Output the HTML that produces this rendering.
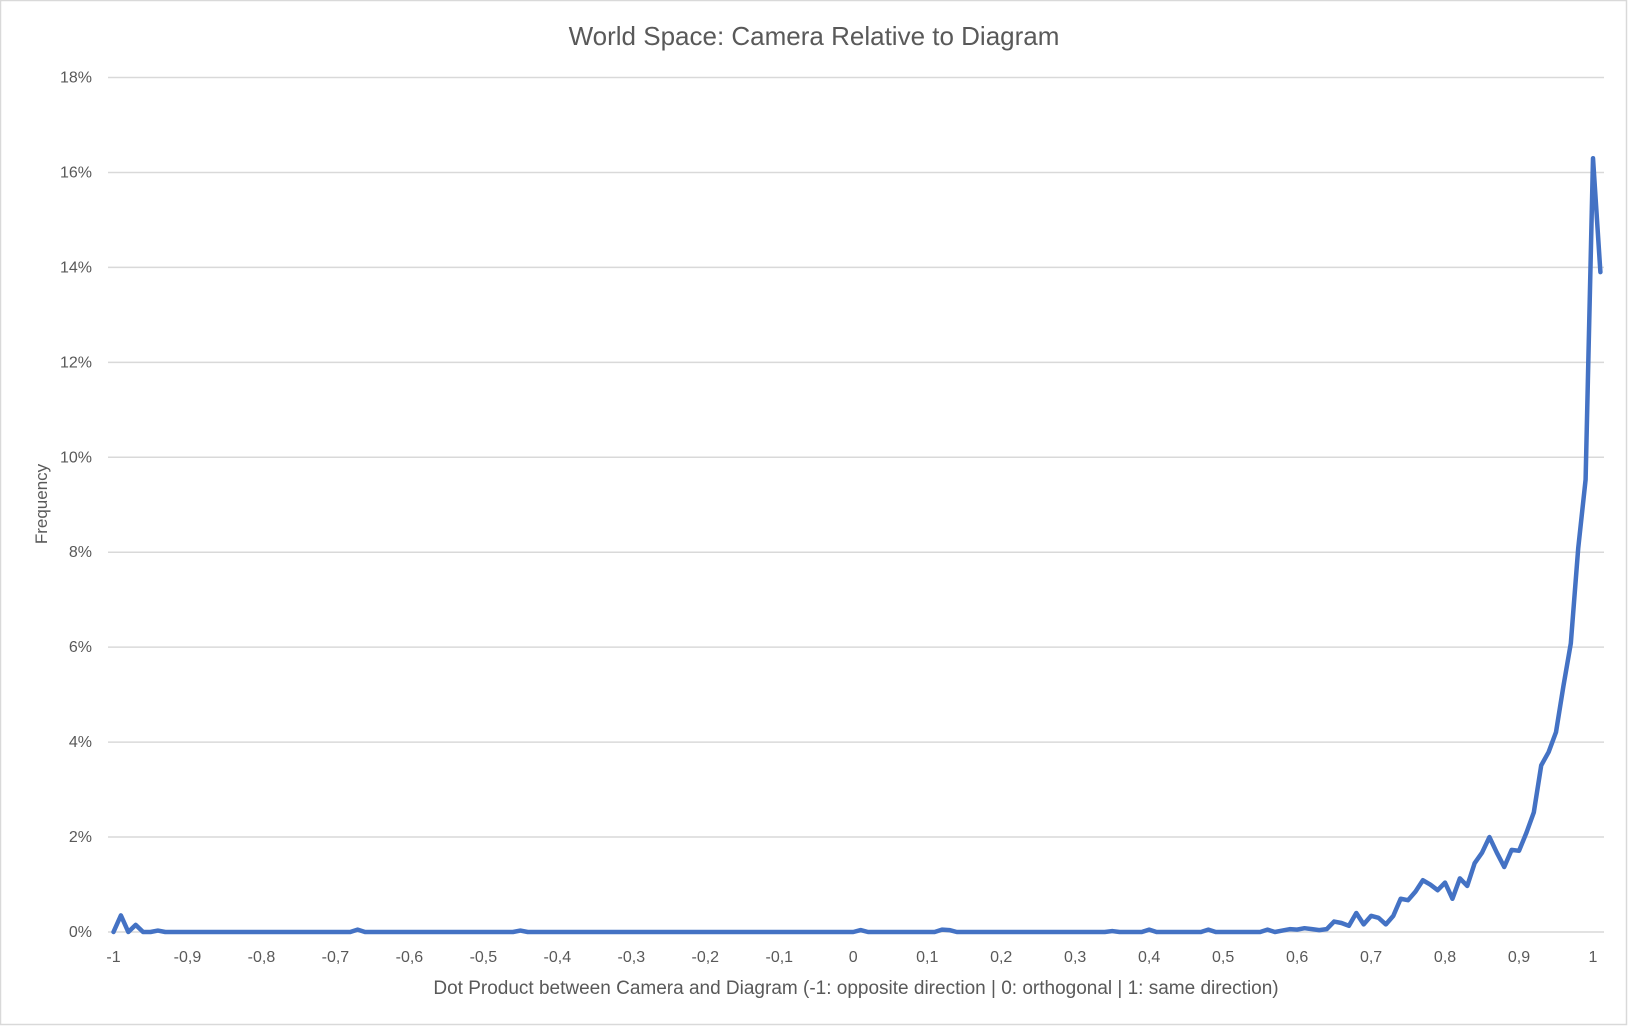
<!DOCTYPE html>
<html><head><meta charset="utf-8"><style>
body{margin:0;background:#fff;}
svg{display:block;font-family:"Liberation Sans",sans-serif;}
</style></head><body>
<svg id="chart" width="1629" height="1026" viewBox="0 0 1629 1026">
<rect x="0.5" y="0.5" width="1626" height="1024" fill="#fff" stroke="#d9d9d9" stroke-width="1.5"/>
<text x="814" y="45" text-anchor="middle" font-size="26" fill="#595959">World Space: Camera Relative to Diagram</text>
<text transform="translate(47,504) rotate(-90)" text-anchor="middle" font-size="17" fill="#595959">Frequency</text>
<text x="856" y="994" text-anchor="middle" font-size="19" fill="#595959">Dot Product between Camera and Diagram (-1: opposite direction | 0: orthogonal | 1: same direction)</text>
<g id="grid"></g><g id="yticks"></g><g id="xticks"></g><g id="series"></g>
</svg>
<script>
const yTicks=[0,2,4,6,8,10,12,14,16,18];
const xTickValues=[-1,-0.9,-0.8,-0.7,-0.6,-0.5,-0.4,-0.3,-0.2,-0.1,0,0.1,0.2,0.3,0.4,0.5,0.6,0.7,0.8,0.9,1];
const xTickLabels=["-1","-0,9","-0,8","-0,7","-0,6","-0,5","-0,4","-0,3","-0,2","-0,1","0","0,1","0,2","0,3","0,4","0,5","0,6","0,7","0,8","0,9","1"];
const binStart=-1, binStep=0.01;
const values=[
0,0.35,0,0.15,0,0,0.03,0,0,0,
0,0,0,0,0,0,0,0,0,0,
0,0,0,0,0,0,0,0,0,0,
0,0,0,0.05,0,0,0,0,0,0,
0,0,0,0,0,0,0,0,0,0,
0,0,0,0,0,0.03,0,0,0,0,
0,0,0,0,0,0,0,0,0,0,
0,0,0,0,0,0,0,0,0,0,
0,0,0,0,0,0,0,0,0,0,
0,0,0,0,0,0,0,0,0,0,
0,0.04,0,0,0,0,0,0,0,0,
0,0,0.05,0.04,0,0,0,0,0,0,
0,0,0,0,0,0,0,0,0,0,
0,0,0,0,0,0.02,0,0,0,0,
0.05,0,0,0,0,0,0,0,0.05,0,
0,0,0,0,0,0,0.05,0,0.03,0.06,
0.05,0.08,0.06,0.04,0.06,0.22,0.19,0.13,0.40,0.16,
0.34,0.30,0.16,0.34,0.70,0.67,0.85,1.09,1.0,0.88,
1.04,0.70,1.13,0.97,1.45,1.67,2.0,1.67,1.37,1.73,
1.71,2.09,2.52,3.51,3.79,4.21,5.18,6.08,8.08,9.53,
16.3,13.9];
const NS="http://www.w3.org/2000/svg";
const X0=113.5,X1=1593,Y0=932,Y1=77.5;
function xs(v){return X0+(v+1)/2*(X1-X0);}
function ys(v){return Y0-v/18*(Y0-Y1);}
const grid=document.getElementById('grid'),yt=document.getElementById('yticks'),xt=document.getElementById('xticks'),ser=document.getElementById('series');
yTicks.forEach(t=>{
 const l=document.createElementNS(NS,'line');
 
 
 l.setAttribute('x1',108);l.setAttribute('x2',1604);l.setAttribute('y1',ys(t));l.setAttribute('y2',ys(t));
 l.setAttribute('stroke','#d9d9d9');l.setAttribute('stroke-width','1.5');grid.appendChild(l);
 const tx=document.createElementNS(NS,'text');
 
 
 tx.setAttribute('x',92);tx.setAttribute('y',ys(t)+5);tx.setAttribute('text-anchor','end');
 tx.setAttribute('font-size','16');tx.setAttribute('fill','#595959');tx.textContent=t+'%';yt.appendChild(tx);
});
xTickValues.forEach((v,i)=>{
 const tx=document.createElementNS(NS,'text');
 
 
 tx.setAttribute('x',xs(v));tx.setAttribute('y',962);tx.setAttribute('text-anchor','middle');
 tx.setAttribute('font-size','16');tx.setAttribute('fill','#595959');tx.textContent=xTickLabels[i];xt.appendChild(tx);
});
const pts=values.map((v,i)=>xs(binStart+i*binStep).toFixed(2)+','+ys(v).toFixed(2)).join(' ');
const pl=document.createElementNS(NS,'polyline');


pl.setAttribute('points',pts);pl.setAttribute('fill','none');pl.setAttribute('stroke','#4472C4');
pl.setAttribute('stroke-width','4.5');pl.setAttribute('stroke-linejoin','round');pl.setAttribute('stroke-linecap','round');
ser.appendChild(pl);
</script>
</body></html>
